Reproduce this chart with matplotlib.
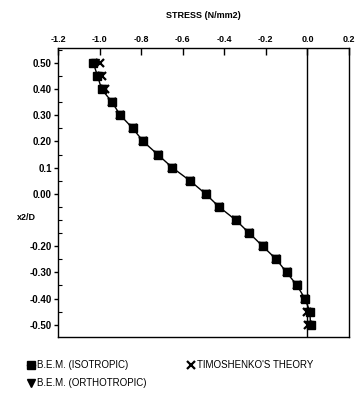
import matplotlib
matplotlib.use("Agg")
import matplotlib.pyplot as plt
from matplotlib.ticker import MultipleLocator

plt.rcParams['font.family'] = ['Liberation Sans', 'DejaVu Sans']

# depth ratio x2/D
depth = [0.50, 0.45, 0.40, 0.35, 0.30, 0.25, 0.20, 0.15, 0.10, 0.05, 0.00,
         -0.05, -0.10, -0.15, -0.20, -0.25, -0.30, -0.35, -0.40, -0.45, -0.50]
# stress (N/mm2)
stress_iso = [-1.03, -1.01, -0.99, -0.94, -0.90, -0.84, -0.79, -0.72, -0.65, -0.565, -0.49,
              -0.425, -0.345, -0.28, -0.215, -0.15, -0.10, -0.05, -0.012, 0.012, 0.015]
stress_ortho = [-1.02, -1.005, -0.985, -0.94, -0.90, -0.84, -0.79, -0.72, -0.65, -0.565, -0.49,
                -0.425, -0.345, -0.28, -0.215, -0.15, -0.10, -0.05, -0.015, 0.005, 0.008]
stress_timo = [-1.00, -0.99, -0.975, -0.94, -0.90, -0.84, -0.79, -0.72, -0.65, -0.565, -0.49,
               -0.425, -0.345, -0.28, -0.215, -0.15, -0.10, -0.05, -0.01, 0.0, 0.005]

xticks = [-1.2, -1.0, -0.8, -0.6, -0.4, -0.2, 0.0, 0.2]
xticklabels = ['-1.2', '-1.0', '-0.8', '-0.6', '-0.4', '-0.2', '0.0', '0.2']
yticks = [0.50, 0.40, 0.30, 0.20, 0.10, 0.00, -0.20, -0.30, -0.40, -0.50]
yticklabels = ['0.50', '0.40', '0.30', '0.20', '0.1', '0.00', '-0.20', '-0.30', '-0.40', '-0.50']

fig = plt.figure(figsize=(3.59, 3.99), dpi=100)
ax = fig.add_axes([0.1616, 0.1554, 0.8104, 0.7243])

ax.plot(stress_iso, depth, color='black', lw=1.0, marker='s', ms=6,
        mfc='black', mec='black', label='B.E.M. (ISOTROPIC)')
ax.plot(stress_ortho, depth, color='black', lw=0, marker='v', ms=6,
        mfc='black', mec='black', label='B.E.M. (ORTHOTROPIC)')
ax.plot(stress_timo, depth, color='black', lw=0, marker='x', ms=6,
        mew=1.6, label="TIMOSHENKO'S THEORY")

ax.axvline(0.0, color='black', lw=1.0)

ax.set_xlim(-1.2, 0.2)
ax.set_ylim(-0.547, 0.557)
ax.xaxis.tick_top()
ax.xaxis.set_label_position('top')
ax.set_xticks(xticks)
ax.set_xticklabels(xticklabels)
ax.set_yticks(yticks)
ax.set_yticklabels(yticklabels)
ax.yaxis.set_minor_locator(MultipleLocator(0.05))
ax.tick_params(axis='x', direction='in', length=5, width=1, labelsize=6.5, pad=3)
ax.tick_params(axis='y', which='major', direction='out', length=3, width=1, labelsize=7, pad=1.5)
ax.tick_params(axis='y', which='minor', direction='in', length=3, width=0.8)
for lab in ax.get_xticklabels() + ax.get_yticklabels():
    lab.set_fontweight('bold')
for sp in ax.spines.values():
    sp.set_linewidth(1.0)

ax.set_xlabel('STRESS (N/mm2)', fontsize=6.5, fontweight='bold', labelpad=12)
fig.text(17 / 359, 1 - 217 / 399, 'x2/D', fontsize=6.5, fontweight='bold',
         va='center', ha='left')

fig.legend(loc='upper left', bbox_to_anchor=(0.075, 0.097), ncol=2, frameon=False,
           fontsize=7, handlelength=0.8, handletextpad=0.2, columnspacing=4.2,
           labelspacing=0.8, borderaxespad=0, borderpad=0)

fig.savefig('out.png', dpi=100)
